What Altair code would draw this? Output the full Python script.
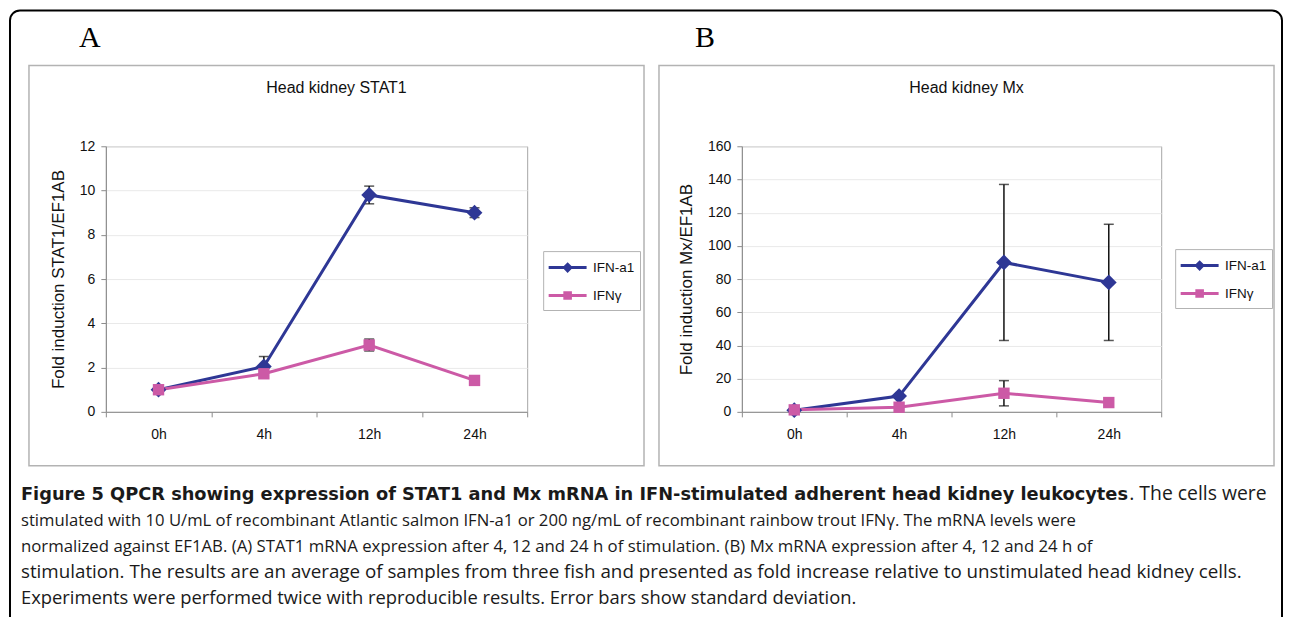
import json
import altair as alt
import pandas as pd

# ---------------- data ----------------
times = ["0h", "4h", "12h", "24h"]
series_names = ["IFN-a1", "IFNγ"]
series_colors = ["#2E3795", "#CC5AA6"]
series_shapes = ["diamond", "square"]
series_marker_sizes = [250, 130]

stat1_ifna1 = [1.0, 2.05, 9.8, 9.0]
stat1_ifna1_sd = [0.1, 0.45, 0.4, 0.22]
stat1_ifng = [1.0, 1.72, 3.02, 1.42]
stat1_ifng_sd = [0.06, 0.15, 0.27, 0.1]

mx_ifna1 = [1.0, 9.5, 90.0, 78.0]
mx_ifna1_sd = [1.0, 1.0, 47.0, 35.0]
mx_ifng = [1.2, 2.8, 11.2, 5.6]
mx_ifng_sd = [1.0, 1.2, 7.6, 1.5]

panel_letters = ["A", "B"]
panel_titles = ["Head kidney STAT1", "Head kidney Mx"]
y_titles = ["Fold induction STAT1/EF1AB", "Fold induction Mx/EF1AB"]
y_ticks_a = [0, 2, 4, 6, 8, 10, 12]
y_ticks_b = [0, 20, 40, 60, 80, 100, 120, 140, 160]

caption_bold = ("Figure 5 QPCR showing expression of STAT1 and Mx mRNA in "
                "IFN-stimulated adherent head kidney leukocytes")
caption_first_rest = ". The cells were"
caption_lines = [
    "stimulated with 10 U/mL of recombinant Atlantic salmon IFN-a1 or 200 ng/mL of recombinant rainbow trout IFNγ. The mRNA levels were",
    "normalized against EF1AB. (A) STAT1 mRNA expression after 4, 12 and 24 h of stimulation. (B) Mx mRNA expression after 4, 12 and 24 h of",
    "stimulation. The results are an average of samples from three fish and presented as fold increase relative to unstimulated head kidney cells.",
    "Experiments were performed twice with reproducible results. Error bars show standard deviation.",
]

FONT = "Liberation Sans"
CAP_FONT = "Open Sans"
CAP_BOLD_FONT = "DejaVu Sans"
PLOT_H = 266


def make_df(v1, s1, v2, s2):
    rows = []
    for vals, sds, name in ((v1, s1, series_names[0]), (v2, s2, series_names[1])):
        for t, v, s in zip(times, vals, sds):
            rows.append({"time": t, "series": name, "value": v, "sd": s})
    df = pd.DataFrame(rows)
    df["lo"] = df["value"] - df["sd"]
    df["hi"] = df["value"] + df["sd"]
    return df


x_expr = "indexof(" + json.dumps(times) + ", datum.time) + 0.5"
label_expr = ("datum.value % 1 == 0.5 ? " + json.dumps(times) +
              "[floor(datum.value)] : ''")

legend_paths = [
    "M-1.9,0H1.9M0,-0.32L0.32,0L0,0.32L-0.32,0Z",
    "M-1.9,0H1.9M-0.28,-0.28H0.28V0.28H-0.28Z",
]


def panel(df, idx, ymax, yticks, plot_w, box, letter_x, title_x, legend_xy,
          extra=None):
    color_scale = alt.Scale(domain=series_names, range=series_colors)
    x_axis = alt.Axis(
        values=[i * 0.5 for i in range(2 * len(times) + 1)],
        labelExpr=label_expr, grid=False, title=None,
        tickSize=5, labelPadding=11, labelFlush=False, labelOverlap=False,
        tickOpacity={"condition": {"test": "datum.value % 1 != 0", "value": 0},
                     "value": 1},
    )
    y_axis = alt.Axis(values=yticks, title=y_titles[idx], grid=True,
                      tickSize=5, labelPadding=6, titlePadding=12)
    X = alt.X("xpos:Q", scale=alt.Scale(domain=[0, len(times)], nice=False,
                                          zero=False), axis=x_axis)
    yscale = alt.Scale(domain=[0, ymax], nice=False)

    def base():
        return alt.Chart(df).transform_calculate(xpos=x_expr)

    one = pd.DataFrame({"label": [panel_letters[idx]],
                        "title": [panel_titles[idx]]})

    layers = []
    # panel frame
    layers.append(alt.Chart(one).mark_rect(
        fillOpacity=0, stroke="#b3b3b3", strokeWidth=1.5).encode(
        x=alt.value(box[0]), x2=alt.value(box[1]),
        y=alt.value(-81), y2=alt.value(320)))
    # letter
    layers.append(alt.Chart(one).mark_text(
        font="Liberation Serif", fontSize=30, align="center",
        baseline="alphabetic", color="#000").encode(
        x=alt.value(letter_x), y=alt.value(-99), text="label:N"))
    # chart title
    layers.append(alt.Chart(one).mark_text(
        font=FONT, fontSize=16, align="center", baseline="middle",
        color="#111").encode(
        x=alt.value(title_x), y=alt.value(-58), text="title:N"))

    # error bars
    layers.append(base().mark_rule(color="#111", strokeWidth=1.5).encode(
        x=X, y=alt.Y("lo:Q", scale=yscale, axis=y_axis), y2="hi:Q"))
    for fld in ("lo", "hi"):
        layers.append(base().mark_tick(orient="horizontal", size=10,
                                       thickness=1.5, color="#111").encode(
            x=X, y=alt.Y(f"{fld}:Q", scale=yscale, axis=y_axis)))

    # lines, one per series
    for name, col in zip(series_names, series_colors):
        layers.append(base().transform_filter(alt.datum.series == name)
                      .mark_line(strokeWidth=3, color=col).encode(
            x=X, y=alt.Y("value:Q", scale=yscale, axis=y_axis),
            order=alt.Order("xpos:Q")))
    # markers, one per series
    for name, col, shp, sz in zip(series_names, series_colors, series_shapes,
                                  series_marker_sizes):
        layers.append(base().transform_filter(alt.datum.series == name)
                      .mark_point(filled=True, opacity=1, shape=shp, size=sz,
                                  color=col)
                      .encode(x=X, y=alt.Y("value:Q", scale=yscale, axis=y_axis)))
    # legend carrier (invisible marks, visible legend)
    leg = alt.Legend(orient="none", legendX=legend_xy[0], legendY=legend_xy[1],
                     title=None, padding=5, strokeColor="#b3b3b3",
                     fillColor="white", symbolSize=400, symbolStrokeWidth=3,
                     symbolOpacity=1, symbolOffset=8, labelOffset=14,
                     rowPadding=7, labelFontSize=13.5, labelFont=FONT,
                     labelColor="#111")
    layers.append(base().mark_point(filled=True, opacity=0).encode(
        x=X, y=alt.Y("value:Q", scale=yscale, axis=y_axis),
        color=alt.Color("series:N", scale=color_scale, legend=leg),
        stroke=alt.Stroke("series:N", scale=color_scale, legend=leg),
        shape=alt.Shape("series:N",
                        scale=alt.Scale(domain=series_names, range=legend_paths),
                        legend=leg)))
    if extra:
        layers.extend(extra)
    return alt.layer(*layers).properties(width=plot_w, height=PLOT_H)


# decorations that live in panel A's coordinate frame (outer border, caption)
blank = pd.DataFrame({"k": [0]})
OX0, OX1, OY0, OY1 = -96, 1178, -136, 480
ow, oh, r = OX1 - OX0, OY1 - OY0, 10
arc = 3.1416 * r / 2
outer = alt.Chart(blank).mark_rect(
    fillOpacity=0, stroke="#000", strokeWidth=2,
    cornerRadiusTopLeft=r, cornerRadiusTopRight=r,
    strokeDash=[(ow - 2 * r) + arc + (oh - r), ow, (oh - r) + arc + 4]).encode(
    x=alt.value(OX0), x2=alt.value(OX1), y=alt.value(OY0), y2=alt.value(OY1))

cap_layers = []
cap_layers.append(alt.Chart(pd.DataFrame({"t": [caption_bold]})).mark_text(
    font=CAP_BOLD_FONT, fontSize=17.8, fontWeight="bold", align="left",
    baseline="alphabetic", color="#1a1a1a").encode(
    x=alt.value(-85), y=alt.value(354), text="t:N"))
cap_layers.append(alt.Chart(pd.DataFrame({"t": [caption_first_rest]})).mark_text(
    font=CAP_FONT, fontSize=19.4, align="left", baseline="alphabetic",
    color="#1a1a1a").encode(x=alt.value(1025), y=alt.value(354), text="t:N"))
line_sizes = [16.7, 16.8, 18.8, 18.4]
line_ys = [380, 406, 432, 458]
for txt, fs, yy in zip(caption_lines, line_sizes, line_ys):
    cap_layers.append(alt.Chart(pd.DataFrame({"t": [txt]})).mark_text(
        font=CAP_FONT, fontSize=fs, align="left", baseline="alphabetic",
        color="#1a1a1a").encode(x=alt.value(-85), y=alt.value(yy), text="t:N"))

df_a = make_df(stat1_ifna1, stat1_ifna1_sd, stat1_ifng, stat1_ifng_sd)
df_b = make_df(mx_ifna1, mx_ifna1_sd, mx_ifng, mx_ifng_sd)

pa = panel(df_a, 0, 12, y_ticks_a, 422, (-77, 539), -16, 231, (438, 105),
           extra=[outer] + cap_layers)
pb = panel(df_b, 1, 160, y_ticks_b, 420, (-83, 533), -37, 225, (434, 103))

chart = alt.hconcat(pa, pb, spacing=215, bounds="flush").resolve_scale(
    color="independent", stroke="independent", shape="independent"
).resolve_legend(
    color="independent", stroke="independent", shape="independent"
).properties(
    padding=0, background="white"
).configure_view(stroke="#a6a6a6", strokeWidth=1).configure_axis(
    labelFont=FONT, labelFontSize=14, labelColor="#111",
    titleFont=FONT, titleFontSize=17, titleFontWeight="normal",
    titleColor="#111", domainColor="#8c8c8c", tickColor="#8c8c8c",
    gridColor="#e9e9e9", domainWidth=1,
)

chart.save("out.html", embed_options={"renderer": "svg", "actions": False})
